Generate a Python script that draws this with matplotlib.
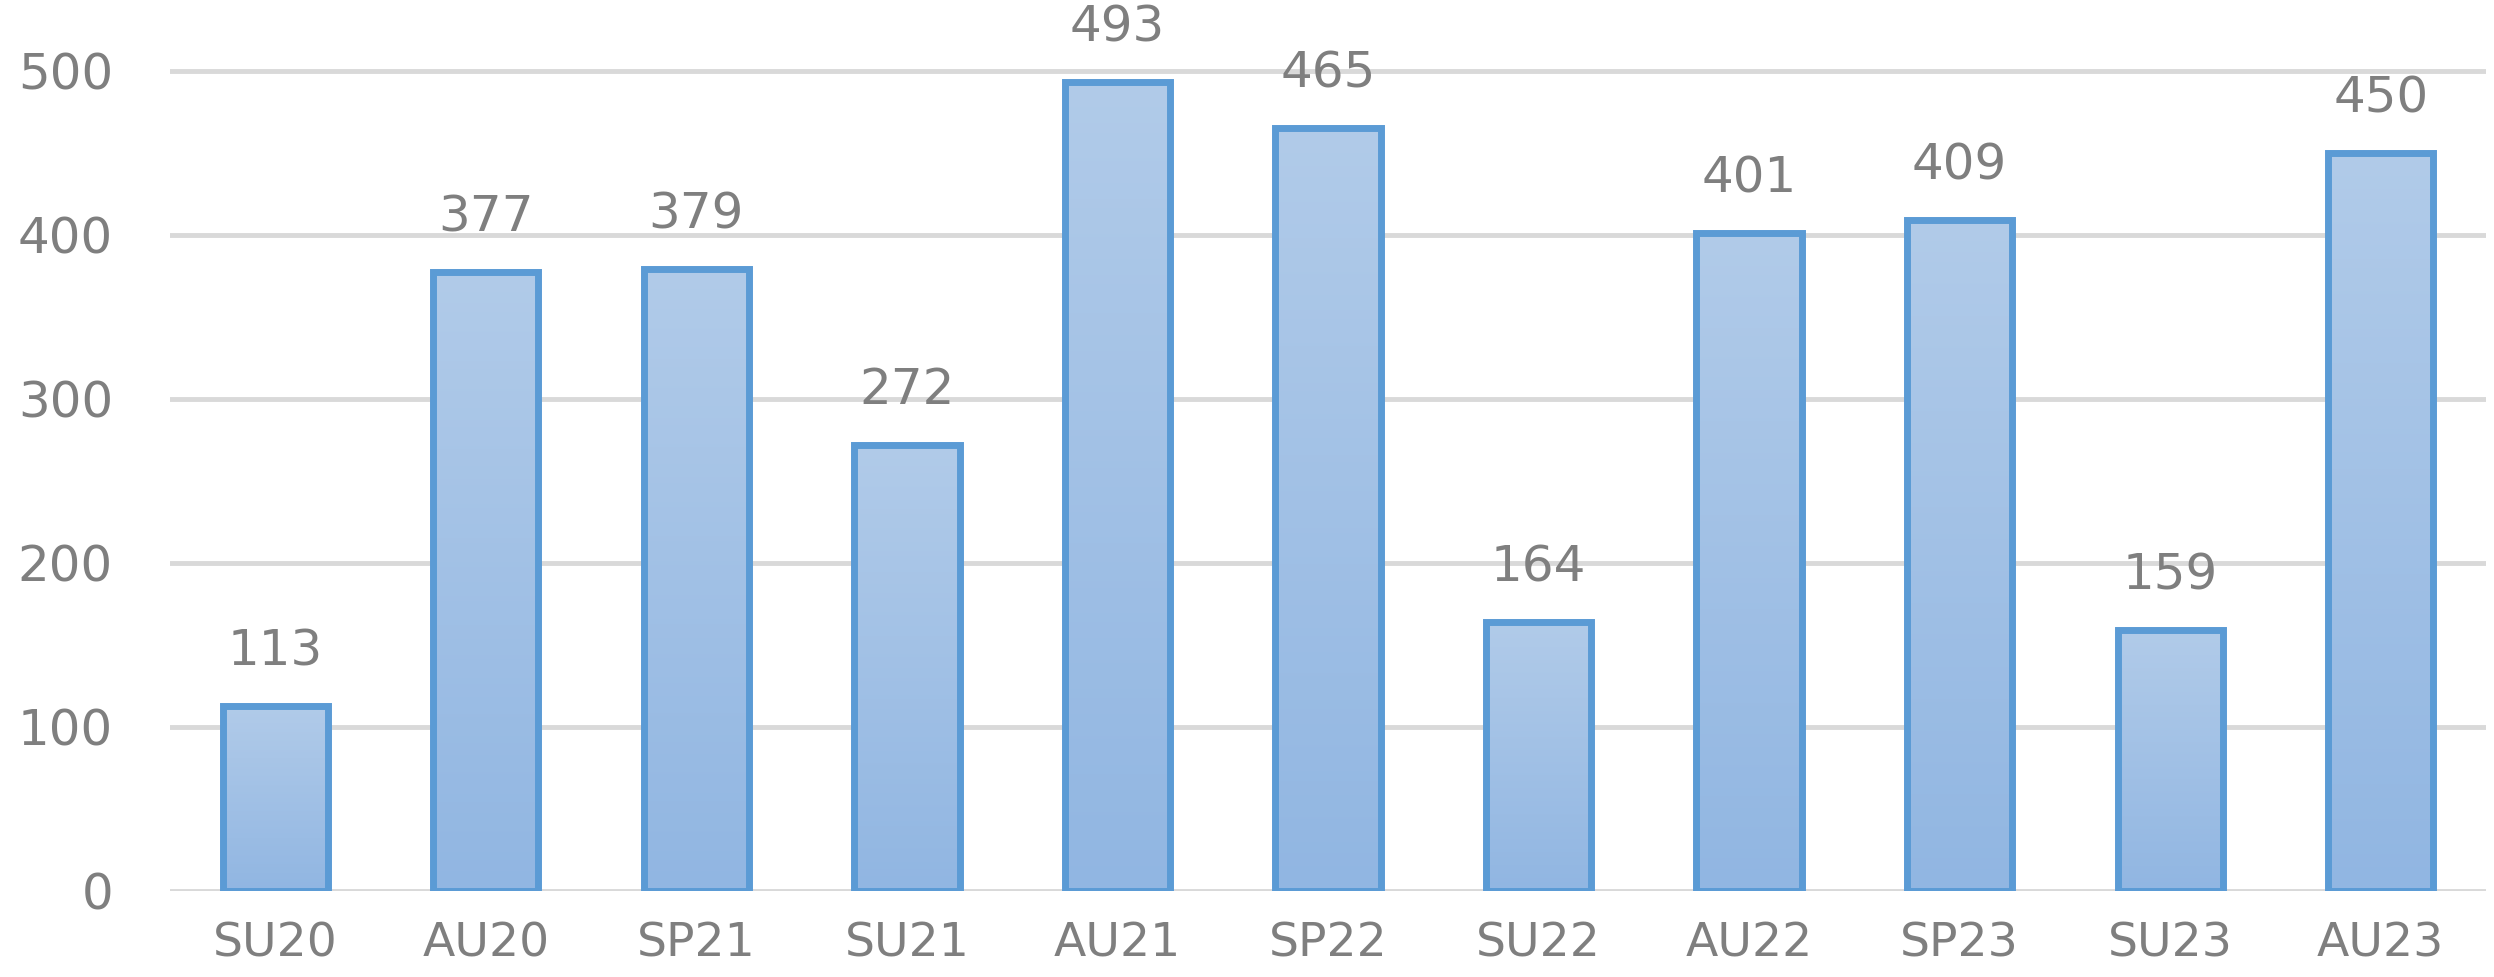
import matplotlib.pyplot as plt
import numpy as np
from matplotlib.colors import LinearSegmentedColormap

terms = ["SU20", "AU20", "SP21", "SU21", "AU21", "SP22",
         "SU22", "AU22", "SP23", "SU23", "AU23"]
counts = [113, 377, 379, 272, 493, 465, 164, 401, 409, 159, 450]
y_ticks = [0, 100, 200, 300, 400, 500]

text_color = "#7F7F7F"
edge_color = "#5B9BD5"
grid_color = "#D9D9D9"

# light at the top, a bit deeper at the bottom of each bar
grad = LinearSegmentedColormap.from_list("bar_grad", ["#91B6E2", "#B1CBE9"])

fig = plt.figure(figsize=(24.94, 9.77), dpi=100)
ax = fig.add_axes([170 / 2494, 86 / 977, 2316 / 2494, 886 / 977])

x = np.arange(len(terms))
bars = ax.bar(x, counts, width=0.5, facecolor="none",
              edgecolor=edge_color, linewidth=5, zorder=3)

ramp = np.linspace(0, 1, 256).reshape(-1, 1)
for rect in bars:
    x0 = rect.get_x()
    w = rect.get_width()
    h = rect.get_height()
    ax.imshow(ramp, cmap=grad, origin="lower", aspect="auto",
              extent=(x0, x0 + w, 0, h), zorder=2)
    ax.annotate(f"{h:.0f}", (x0 + w / 2, h), xytext=(0, 22),
                textcoords="offset points", ha="center", va="bottom",
                fontsize=36, color=text_color)

ax.set_xlim(-0.5, len(terms) - 0.5)
ax.set_ylim(0, 540)
ax.set_yticks(y_ticks)
ax.set_xticks(x)
ax.set_xticklabels(terms)

ax.yaxis.grid(True, color=grid_color, linewidth=3.5, zorder=0)
ax.set_axisbelow(True)
for side in ["top", "right", "left", "bottom"]:
    ax.spines[side].set_visible(False)

ax.tick_params(axis="both", length=0, labelcolor=text_color)
ax.tick_params(axis="y", pad=41, labelsize=36)
ax.tick_params(axis="x", pad=22, labelsize=34)

plt.savefig("out.png", dpi=100)
plt.close()
